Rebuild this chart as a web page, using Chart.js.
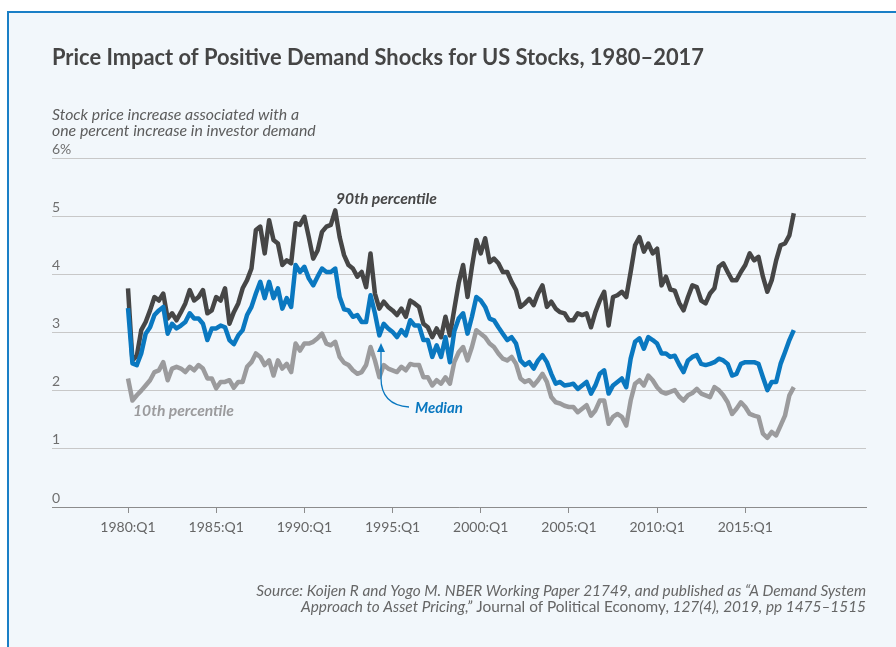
<!DOCTYPE html>
<html>
<head>
<meta charset="utf-8">
<title>Price Impact of Positive Demand Shocks for US Stocks</title>
<script src="https://cdn.jsdelivr.net/npm/chart.js@4.4.1/dist/chart.umd.min.js"></script>
<style>
  html, body { margin: 0; padding: 0; background: #fff; }
  #wrap { width: 896px; height: 647px; }
</style>
</head>
<body>
<div id="wrap"><canvas id="grafico" width="896" height="647"></canvas></div>
<script>
// Quarterly series, 1980:Q1 .. 2017:Q4 (152 quarters)
var startYear = 1980;
var tickYears = [1980, 1985, 1990, 1995, 2000, 2005, 2010, 2015];
var yTicks = [0, 1, 2, 3, 4, 5, 6];

var p90 = [
  3.76, 2.52, 2.60, 3.04, 3.18, 3.38, 3.61, 3.55, 3.67, 3.24, 3.33, 3.21, 3.35, 3.50, 3.73, 3.55,
  3.61, 3.73, 3.33, 3.38, 3.61, 3.55, 3.76, 3.15, 3.35, 3.50, 3.76, 3.90, 4.10, 4.76, 4.82, 4.36,
  4.93, 4.59, 4.53, 4.16, 4.24, 4.19, 4.88, 4.85, 4.99, 4.64, 4.27, 4.41, 4.73, 4.82, 4.85, 5.10,
  4.64, 4.33, 4.16, 4.10, 3.96, 4.04, 3.78, 4.36, 3.67, 3.41, 3.53, 3.44, 3.38, 3.30, 3.41, 3.27,
  3.55, 3.50, 3.44, 3.15, 3.09, 2.92, 3.07, 2.92, 3.27, 2.95, 3.40, 3.85, 4.16, 3.61, 4.13, 4.59,
  4.36, 4.62, 4.21, 4.27, 4.19, 4.04, 4.04, 3.87, 3.73, 3.44, 3.50, 3.58, 3.47, 3.67, 3.81, 3.44,
  3.53, 3.41, 3.35, 3.33, 3.21, 3.21, 3.33, 3.30, 3.33, 3.09, 3.35, 3.55, 3.70, 3.12, 3.61, 3.64,
  3.70, 3.61, 4.04, 4.50, 4.64, 4.39, 4.53, 4.36, 4.44, 3.81, 3.96, 3.74, 3.72, 3.51, 3.38, 3.61,
  3.81, 3.78, 3.55, 3.50, 3.67, 3.76, 4.13, 4.19, 4.04, 3.90, 3.90, 4.04, 4.16, 4.36, 4.24, 4.30,
  3.96, 3.70, 3.90, 4.24, 4.50, 4.53, 4.67, 5.05
];

var mediana = [
  3.42, 2.47, 2.44, 2.64, 2.98, 3.09, 3.30, 3.38, 3.44, 2.98, 3.15, 3.07, 3.12, 3.18, 3.33, 3.24,
  3.24, 3.15, 2.87, 3.07, 3.07, 3.12, 3.09, 2.87, 2.80, 2.95, 3.04, 3.30, 3.44, 3.67, 3.87, 3.59,
  3.87, 3.59, 3.76, 3.41, 3.59, 3.44, 4.16, 4.04, 4.13, 3.93, 3.81, 3.96, 4.10, 4.04, 4.04, 4.10,
  3.61, 3.40, 3.38, 3.27, 3.30, 3.18, 3.18, 3.64, 3.33, 2.95, 3.15, 3.07, 3.01, 2.92, 3.04, 2.95,
  3.21, 3.12, 3.12, 2.87, 2.87, 2.58, 2.78, 2.58, 2.92, 2.49, 3.02, 3.24, 3.33, 2.98, 3.27, 3.61,
  3.55, 3.44, 3.24, 3.21, 3.09, 2.98, 2.87, 2.92, 2.81, 2.52, 2.44, 2.49, 2.38, 2.52, 2.61, 2.49,
  2.29, 2.12, 2.15, 2.09, 2.10, 2.12, 2.03, 2.09, 2.15, 1.95, 2.09, 2.29, 2.35, 1.95, 2.09, 2.15,
  2.21, 2.06, 2.55, 2.84, 2.90, 2.72, 2.92, 2.87, 2.81, 2.64, 2.64, 2.58, 2.60, 2.45, 2.32, 2.52,
  2.58, 2.61, 2.46, 2.44, 2.46, 2.49, 2.55, 2.52, 2.46, 2.26, 2.29, 2.46, 2.49, 2.49, 2.49, 2.46,
  2.23, 2.01, 2.15, 2.15, 2.46, 2.66, 2.87, 3.04
];

var p10 = [
  2.21, 1.83, 1.92, 2.00, 2.09, 2.18, 2.32, 2.35, 2.49, 2.18, 2.38, 2.41, 2.38, 2.32, 2.41, 2.35,
  2.44, 2.38, 2.21, 2.21, 2.04, 2.15, 2.15, 2.18, 2.05, 2.15, 2.15, 2.41, 2.49, 2.64, 2.58, 2.44,
  2.52, 2.26, 2.52, 2.38, 2.46, 2.32, 2.81, 2.69, 2.81, 2.81, 2.84, 2.90, 2.98, 2.81, 2.78, 2.84,
  2.58, 2.48, 2.44, 2.35, 2.29, 2.32, 2.44, 2.75, 2.52, 2.23, 2.44, 2.38, 2.35, 2.32, 2.41, 2.35,
  2.46, 2.44, 2.44, 2.23, 2.23, 2.09, 2.18, 2.12, 2.23, 2.12, 2.49, 2.66, 2.75, 2.52, 2.75, 3.04,
  2.98, 2.92, 2.81, 2.75, 2.64, 2.55, 2.52, 2.58, 2.46, 2.21, 2.15, 2.18, 2.09, 2.18, 2.29, 2.15,
  1.89, 1.80, 1.78, 1.74, 1.72, 1.72, 1.63, 1.69, 1.75, 1.57, 1.66, 1.83, 1.83, 1.43, 1.55, 1.60,
  1.55, 1.40, 1.83, 2.12, 2.18, 2.09, 2.26, 2.18, 2.06, 1.98, 1.95, 1.98, 2.01, 1.90, 1.83, 1.92,
  1.96, 2.03, 1.95, 1.92, 1.89, 2.06, 2.01, 1.92, 1.80, 1.60, 1.69, 1.80, 1.72, 1.60, 1.57, 1.55,
  1.26, 1.19, 1.29, 1.23, 1.40, 1.57, 1.92, 2.06
];

var FUENTE = 'Lato';
var azul = '#0a78c0';
var negro = '#464646';
var gris = '#9b9b9d';

/* Convierte una serie trimestral en puntos {x, y} */
function aPuntos(serie) {
  return serie.map(function(v, i) {
    return { x: startYear + i / 4, y: v };
  });
}

/* Ajusta el tamaño de letra para que el texto ocupe el ancho deseado */
function tamanoAjustado(ctx, texto, estilo, ancho) {
  ctx.font = estilo + ' 20px ' + FUENTE;
  return 20 * ancho / ctx.measureText(texto).width;
}

var fondo = {
  id: 'fondo',
  beforeDraw: function(chart) {
    var ctx = chart.ctx;
    ctx.save();
    ctx.fillStyle = '#ffffff';
    ctx.fillRect(0, 0, chart.width, chart.height);
    ctx.fillStyle = '#f2f7fb';
    ctx.fillRect(8, 13, chart.width - 8, chart.height - 13);
    ctx.strokeStyle = '#1a7fc6';
    ctx.lineWidth = 2;
    ctx.beginPath();
    ctx.moveTo(8, chart.height);
    ctx.lineTo(8, 12);
    ctx.lineTo(chart.width, 12);
    ctx.stroke();
    ctx.restore();
  }
};

var textos = {
  id: 'textos',
  afterDraw: function(chart) {
    var ctx = chart.ctx;
    ctx.save();
    ctx.textBaseline = 'middle';
    ctx.textAlign = 'left';

    // Titulo
    var titulo = 'Price Impact of Positive Demand Shocks for US Stocks, 1980\u20132017';
    var s = tamanoAjustado(ctx, titulo, 'bold', 652);
    ctx.font = 'bold ' + s + 'px ' + FUENTE;
    ctx.fillStyle = '#454545';
    ctx.fillText(titulo, 52, 58);

    // Subtitulo del eje
    var sub1 = 'Stock price increase associated with a';
    var sub2 = 'one percent increase in investor demand';
    s = tamanoAjustado(ctx, sub2, 'italic', 264);
    ctx.font = 'italic ' + s + 'px ' + FUENTE;
    ctx.fillStyle = '#5c5c5c';
    ctx.fillText(sub1, 52, 115);
    ctx.fillText(sub2, 52, 131);

    // Etiquetas de las series
    ctx.font = 'bold italic ' + tamanoAjustado(ctx, '90th percentile', 'bold italic', 101) + 'px ' + FUENTE;
    ctx.fillStyle = negro;
    ctx.fillText('90th percentile', 336, 199);
    ctx.fillStyle = gris;
    ctx.fillText('10th percentile', 133, 411);
    ctx.fillStyle = azul;
    ctx.font = 'bold italic ' + tamanoAjustado(ctx, 'Median', 'bold italic', 48) + 'px ' + FUENTE;
    ctx.fillText('Median', 415, 408);

    // Flecha de la mediana
    ctx.strokeStyle = azul;
    ctx.lineWidth = 1.3;
    ctx.beginPath();
    ctx.moveTo(409, 407);
    ctx.quadraticCurveTo(381, 405, 381, 378);
    ctx.lineTo(381, 349);
    ctx.stroke();
    ctx.fillStyle = azul;
    ctx.beginPath();
    ctx.moveTo(381, 343);
    ctx.lineTo(377, 352);
    ctx.lineTo(385, 352);
    ctx.closePath();
    ctx.fill();

    // Fuente
    var f1 = 'Source: Koijen R and Yogo M. NBER Working Paper 21749, and published as \u201cA Demand System';
    s = tamanoAjustado(ctx, f1, 'italic', 610);
    ctx.fillStyle = '#666666';
    ctx.textAlign = 'right';
    ctx.font = 'italic ' + s + 'px ' + FUENTE;
    ctx.fillText(f1, 866, 591);
    var partes = [
      ['Approach to Asset Pricing,\u201d', 'italic'],
      [' Journal of Political Economy,', 'normal'],
      [' 127(4), 2019, pp 1475\u20131515', 'italic']
    ];
    var total = 0;
    partes.forEach(function(p) {
      ctx.font = p[1] + ' ' + s + 'px ' + FUENTE;
      total += ctx.measureText(p[0]).width;
    });
    var x = 866 - total;
    ctx.textAlign = 'left';
    partes.forEach(function(p) {
      ctx.font = p[1] + ' ' + s + 'px ' + FUENTE;
      ctx.fillText(p[0], x, 607);
      x += ctx.measureText(p[0]).width;
    });
    ctx.restore();
  }
};

var ctx = document.getElementById('grafico');
var grafico = new Chart(ctx, {
  type: 'line',
  data: {
    datasets: [{
      label: 'Median',
      data: aPuntos(mediana),
      borderColor: azul,
      borderWidth: 4.5,
      order: 0
    }, {
      label: '10th percentile',
      data: aPuntos(p10),
      borderColor: gris,
      borderWidth: 4.5,
      order: 1
    }, {
      label: '90th percentile',
      data: aPuntos(p90),
      borderColor: negro,
      borderWidth: 4.5,
      order: 2
    }]
  },
  options: {
    responsive: false,
    animation: false,
    devicePixelRatio: 1,
    layout: { padding: { left: 52, right: 30, top: 158, bottom: 0 } },
    elements: {
      point: { radius: 0 },
      line: { tension: 0, borderJoinStyle: 'round', borderCapStyle: 'butt', fill: false }
    },
    plugins: {
      legend: { display: false },
      tooltip: { enabled: false }
    },
    scales: {
      x: {
        type: 'linear',
        min: 1975.69,
        max: 2021.844,
        afterBuildTicks: function(scale) {
          scale.ticks = tickYears.map(function(y) { return { value: y }; });
        },
        afterFit: function(scale) { scale.height = 140; },
        ticks: {
          autoSkip: false,
          maxRotation: 0,
          padding: 6,
          color: '#666666',
          font: { family: FUENTE, size: 14 },
          callback: function(v) { return v + ':Q1'; }
        },
        grid: {
          drawOnChartArea: false,
          drawTicks: true,
          tickLength: 6,
          color: '#8c8c8c'
        },
        border: { display: true, color: '#8c8c8c', width: 1 }
      },
      y: {
        min: 0,
        max: 6,
        afterBuildTicks: function(scale) {
          scale.ticks = yTicks.map(function(v) { return { value: v }; });
        },
        afterFit: function(scale) { scale.width = 0; },
        ticks: {
          mirror: true,
          padding: 0,
          labelOffset: -9,
          color: '#6f6f6f',
          font: { family: FUENTE, size: 14 },
          callback: function(v) { return v === 6 ? '6%' : v; }
        },
        grid: { drawTicks: false, color: '#c8c8c8', lineWidth: 1 },
        border: { display: false }
      }
    }
  },
  plugins: [fondo, textos]
});
</script>
</body>
</html>
